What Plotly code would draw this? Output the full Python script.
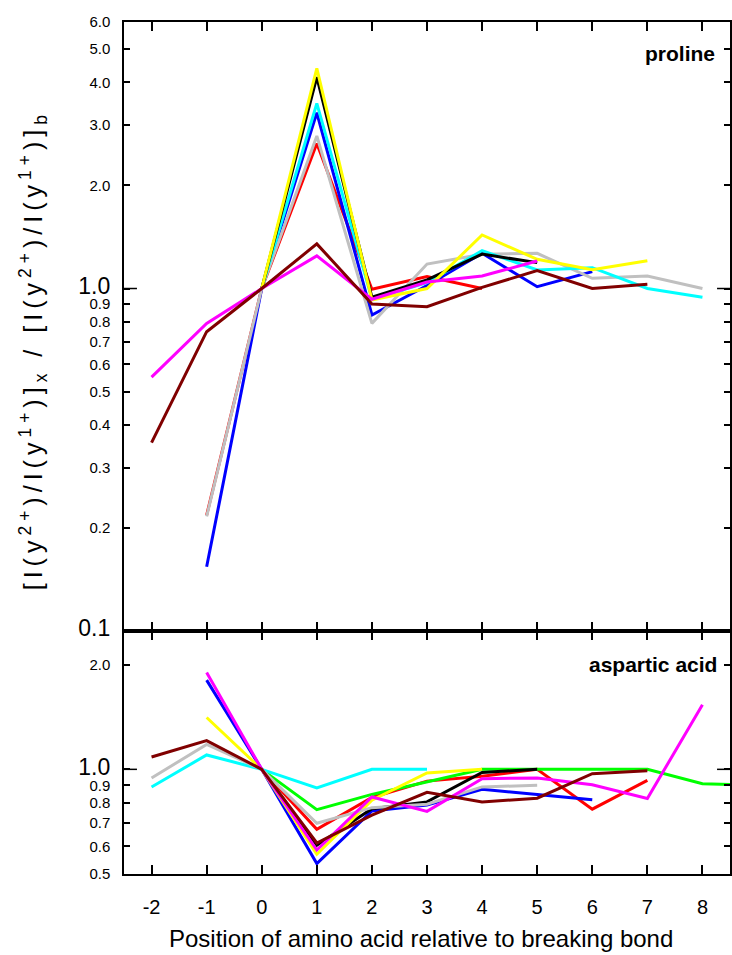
import math
import plotly.graph_objects as go

# ---------------- data ----------------
positions = [-2, -1, 0, 1, 2, 3, 4, 5, 6, 7, 8]

# proline panel (top)
pro_yellow_x = [0, 1, 2, 3, 4, 5, 6, 7]
pro_yellow = [1.0, 4.39, 0.926, 1.0, 1.433, 1.217, 1.134, 1.206]
pro_black_x = [0, 1, 2, 3, 4, 5]
pro_black = [1.0, 4.14, 0.943, 1.06, 1.26, 1.19]
pro_cyan_x = [0, 1, 2, 3, 4, 5, 6, 7, 8]
pro_cyan = [1.0, 3.47, 0.931, 1.04, 1.29, 1.133, 1.15, 1.0, 0.943]
pro_blue_x = [-1, 0, 1, 2, 3, 4, 5, 6]
pro_blue = [0.154, 1.0, 3.26, 0.837, 1.02, 1.267, 1.012, 1.12]
pro_grey_x = [-1, 0, 1, 2, 3, 4, 5, 6, 7, 8]
pro_grey = [0.216, 1.0, 2.79, 0.791, 1.179, 1.259, 1.267, 1.071, 1.088, 1.0]
pro_red_x = [-1, 0, 1, 2, 3, 4]
pro_red = [0.218, 1.0, 2.65, 0.995, 1.083, 1.0]
pro_maroon_x = [-2, -1, 0, 1, 2, 3, 4, 5, 6, 7]
pro_maroon = [0.355, 0.748, 1.0, 1.35, 0.901, 0.885, 1.008, 1.128, 1.0, 1.029]
pro_magenta_x = [-2, -1, 0, 1, 2, 3, 4, 5]
pro_magenta = [0.551, 0.791, 1.0, 1.245, 0.93, 1.045, 1.088, 1.203]

# aspartic acid panel (bottom)
asp_cyan_x = [-2, -1, 0, 1, 2, 3]
asp_cyan = [0.89, 1.10, 1.0, 0.884, 1.0, 1.0]
asp_grey_x = [-2, -1, 0, 1, 2, 3, 4, 5]
asp_grey = [0.944, 1.18, 1.0, 0.70, 0.776, 0.794, 0.89, 0.90]
asp_blue_x = [-1, 0, 1, 2, 3, 4, 5, 6]
asp_blue = [1.806, 1.0, 0.536, 0.759, 0.79, 0.876, 0.847, 0.818]
asp_yellow_x = [-1, 0, 1, 2, 3, 4]
asp_yellow = [1.41, 1.0, 0.57, 0.815, 0.976, 1.0]
asp_red_x = [0, 1, 2, 3, 4, 5, 6, 7]
asp_red = [1.0, 0.672, 0.83, 0.925, 0.955, 1.0, 0.768, 0.93]
asp_green_x = [0, 1, 2, 3, 4, 5, 6, 7, 8, 9]
asp_green = [1.0, 0.766, 0.847, 0.92, 1.0, 1.0, 1.0, 1.0, 0.909, 0.90]
asp_black_x = [0, 1, 2, 3, 4, 5]
asp_black = [1.0, 0.605, 0.77, 0.806, 0.98, 1.0]
asp_magenta_x = [-1, 0, 1, 2, 3, 4, 5, 6, 7, 8]
asp_magenta = [1.90, 1.0, 0.586, 0.833, 0.757, 0.94, 0.945, 0.903, 0.824, 1.535]
asp_maroon_x = [-2, -1, 0, 1, 2, 3, 4, 5, 6, 7]
asp_maroon = [1.085, 1.21, 1.0, 0.614, 0.738, 0.859, 0.806, 0.826, 0.972, 0.99]

top_ticks = [6.0, 5.0, 4.0, 3.0, 2.0, 1.0, 0.9, 0.8, 0.7, 0.6, 0.5, 0.4, 0.3, 0.2, 0.1]
bottom_ticks = [2.0, 1.0, 0.9, 0.8, 0.7, 0.6, 0.5]
big_ticks = [1.0, 0.1]

COL = {
    "yellow": "#ffff00", "black": "#000000", "cyan": "#00ffff", "blue": "#0000ff",
    "grey": "#c0c0c0", "red": "#ff0000", "maroon": "#800000", "magenta": "#ff00ff",
    "green": "#00ff00",
}

FONT = "Liberation Sans, Arial, Helvetica, sans-serif"

fig = go.Figure()

top_series = [
    ("red", pro_red_x, pro_red), ("blue", pro_blue_x, pro_blue),
    ("grey", pro_grey_x, pro_grey), ("cyan", pro_cyan_x, pro_cyan),
    ("black", pro_black_x, pro_black), ("yellow", pro_yellow_x, pro_yellow),
    ("magenta", pro_magenta_x, pro_magenta), ("maroon", pro_maroon_x, pro_maroon),
]
bottom_series = [
    ("red", asp_red_x, asp_red), ("green", asp_green_x, asp_green),
    ("blue", asp_blue_x, asp_blue), ("black", asp_black_x, asp_black),
    ("yellow", asp_yellow_x, asp_yellow), ("cyan", asp_cyan_x, asp_cyan),
    ("grey", asp_grey_x, asp_grey), ("magenta", asp_magenta_x, asp_magenta),
    ("maroon", asp_maroon_x, asp_maroon),
]

for c, xs, ys in top_series:
    fig.add_trace(go.Scatter(x=xs, y=ys, mode="lines", xaxis="x2", yaxis="y2",
                             line=dict(color=COL[c], width=3), showlegend=False,
                             hoverinfo="skip"))
for c, xs, ys in bottom_series:
    fig.add_trace(go.Scatter(x=xs, y=ys, mode="lines", xaxis="x", yaxis="y",
                             line=dict(color=COL[c], width=3), showlegend=False,
                             hoverinfo="skip"))

W, H = 732, 955
ML, MR, MT, MB = 124, 0, 22, 81
plot_h = H - MT - MB
split = 243 / plot_h

top_range = [math.log10(0.1), math.log10(6.0)]
bot_range = [math.log10(0.5), math.log10(2.5)]


def fmt(v):
    s = "%.1f" % v
    if v in big_ticks:
        return '<span style="font-size:23px">%s</span>' % s
    return s


common_y = dict(type="log", showline=True, linecolor="black", linewidth=1.5,
                mirror="ticks", ticks="inside", ticklen=6, tickwidth=1.5,
                tickcolor="black", showgrid=False, zeroline=False,
                tickfont=dict(family=FONT, size=15, color="black"),
                ticklabelstandoff=9)
common_x = dict(range=[-2.5, 8.5], showline=True, linecolor="black", linewidth=1.5,
                mirror="ticks", ticks="inside", ticklen=9, tickwidth=1.5,
                tickcolor="black", showgrid=False, zeroline=False,
                tickmode="array", tickvals=positions)

fig.update_layout(
    width=W, height=H,
    margin=dict(l=ML, r=MR, t=MT, b=MB),
    paper_bgcolor="white", plot_bgcolor="white",
    font=dict(family=FONT, color="black"),
    xaxis=dict(**common_x, domain=[0, 1], anchor="y",
               ticktext=[str(p) for p in positions],
               tickfont=dict(family=FONT, size=20, color="black"),
               ticklabelstandoff=14),
    yaxis=dict(**common_y, domain=[0, split], range=bot_range, anchor="x",
               tickmode="array", tickvals=bottom_ticks,
               ticktext=[fmt(v) for v in bottom_ticks]),
    xaxis2=dict(**common_x, domain=[0, 1], anchor="y2", matches="x",
                showticklabels=False),
    yaxis2=dict(**common_y, domain=[split, 1], range=top_range, anchor="x2",
                tickmode="array", tickvals=top_ticks,
                ticktext=[fmt(v) for v in top_ticks]),
)

# longer ticks at 1.0 on both panels (both sides)
long_len = 13 / (W - ML - MR)
frac_top = split + (0 - top_range[0]) / (top_range[1] - top_range[0]) * (1 - split)
frac_bot = (0 - bot_range[0]) / (bot_range[1] - bot_range[0]) * split
for fy in (frac_top, frac_bot):
    for x0, x1 in ((0, long_len), (1 - long_len, 1)):
        fig.add_shape(type="line", xref="paper", yref="paper", x0=x0, x1=x1,
                      y0=fy, y1=fy, line=dict(color="black", width=1.5))

pw = W - ML - MR
fig.add_annotation(text="<b>proline</b>", xref="paper", yref="paper",
                   x=(719 - ML) / pw, y=(H - MB - 53) / plot_h,
                   xanchor="right", yanchor="middle", showarrow=False,
                   font=dict(family=FONT, size=21, color="black"))
fig.add_annotation(text="<b>aspartic acid</b>", xref="paper", yref="paper",
                   x=(721 - ML) / pw, y=(H - MB - 664) / plot_h,
                   xanchor="right", yanchor="middle", showarrow=False,
                   font=dict(family=FONT, size=21, color="black"))
fig.add_annotation(text="Position of amino acid relative to breaking bond",
                   xref="paper", yref="paper", x=(422 - ML) / pw,
                   y=(H - MB - 938) / plot_h, xanchor="center", yanchor="middle",
                   showarrow=False, font=dict(family=FONT, size=24, color="black"))
ytitle = ("[I(y<sup>2+</sup>)/I(y<sup>1+</sup>)]<sub>x</sub> / "
          "[I(y<sup>2+</sup>)/I(y<sup>1+</sup>)]<sub>b</sub>")
fig.add_annotation(text='<span style="letter-spacing:5px">%s</span>' % ytitle,
                   xref="paper", yref="paper", x=(33 - ML) / pw,
                   y=(H - MB - 350) / plot_h, xanchor="center", yanchor="middle",
                   textangle=-90, showarrow=False,
                   font=dict(family=FONT, size=25, color="black"))

fig.write_html("out.html")
